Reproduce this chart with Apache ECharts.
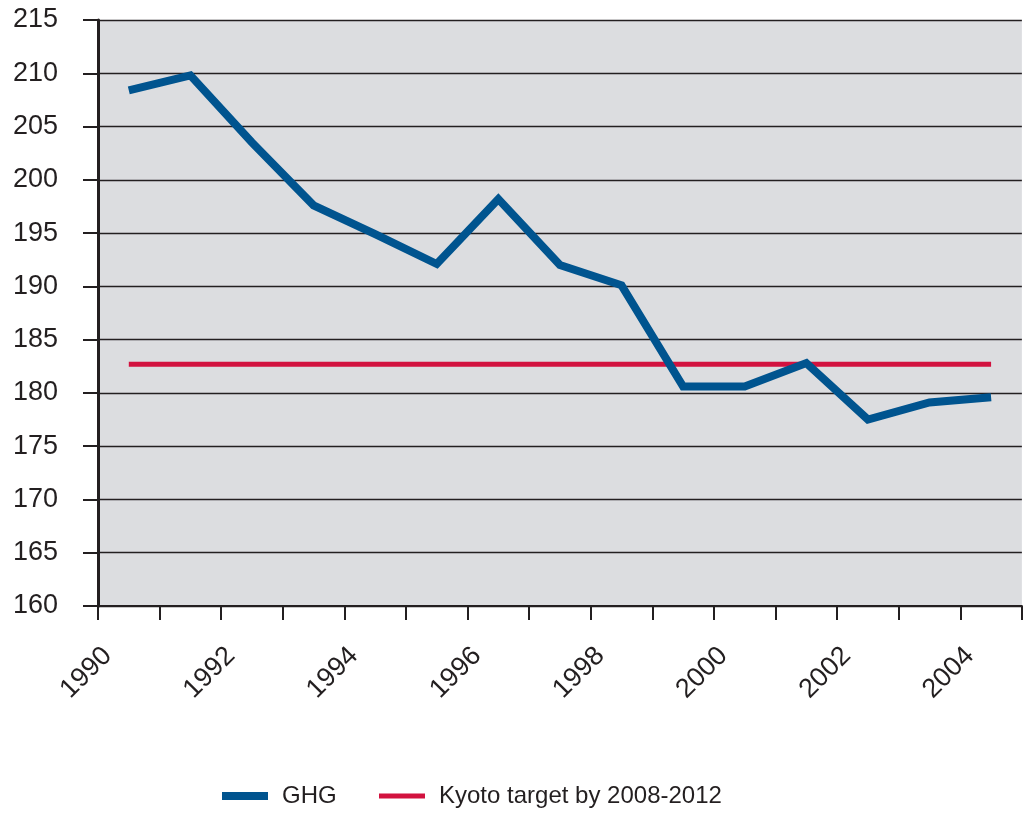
<!DOCTYPE html>
<html>
<head>
<meta charset="utf-8">
<script src="https://cdn.jsdelivr.net/npm/echarts@6/dist/echarts.min.js"></script>
<style>
  html, body { margin: 0; padding: 0; background: #fff; }
  #chart { width: 1024px; height: 814px; }
</style>
</head>
<body>
<div id="chart"></div>
<script>
// 年份（数据点位于每年区间中间）
const years = ['1990', '1991', '1992', '1993', '1994', '1995', '1996', '1997',
  '1998', '1999', '2000', '2001', '2002', '2003', '2004'];
// 温室气体排放
const ghg = [208.4, 209.8, 203.5, 197.6, 194.9, 192.1, 198.2, 192.0,
  190.1, 180.6, 180.6, 182.8, 177.5, 179.1, 179.6];
// 京都目标
const kyoto = [182.7, 182.7, 182.7, 182.7, 182.7, 182.7, 182.7, 182.7,
  182.7, 182.7, 182.7, 182.7, 182.7, 182.7, 182.7];
const yTicks = { min: 160, max: 215, step: 5 };
const xTicks = { min: 1990, max: 2005, step: 1 };

const axisFont = 'Liberation Sans, Arial, sans-serif';
const blue = '#00548f';
const red = '#d2123f';

const legendText = { fontFamily: axisFont, fontSize: 24, color: '#231f20', padding: [0, 0, 0, 9] };

const chart = echarts.init(document.getElementById('chart'));
chart.setOption({
  animation: false,
  grid: [
    {
      left: 98,
      top: 20,
      right: -8,
      bottom: 208,
      show: true,
      backgroundColor: '#dcdde0',
      borderWidth: 0
    },
    // y轴左侧刻度线
    { left: 83, top: 20, width: 15, bottom: 208, show: false }
  ],
  legend: [
    {
      left: 222,
      top: 784,
      padding: 0,
      itemWidth: 46,
      itemHeight: 8,
      icon: 'rect',
      textStyle: legendText,
      data: ['GHG']
    },
    {
      left: 379,
      top: 784,
      padding: 0,
      itemWidth: 46,
      itemHeight: 5,
      icon: 'rect',
      textStyle: legendText,
      data: ['Kyoto target by 2008-2012']
    }
  ],
  xAxis: [
    {
      type: 'category',
      gridIndex: 0,
      data: years,
      boundaryGap: true,
      axisLine: { show: false },
      axisTick: { show: false },
      axisLabel: { show: false }
    },
    {
      type: 'value',
      gridIndex: 0,
      min: xTicks.min,
      max: xTicks.max,
      interval: xTicks.step,
      position: 'bottom',
      splitLine: { show: false },
      axisLine: { show: true, onZero: false, lineStyle: { color: '#231f20', width: 2 } },
      axisTick: { show: true, length: 14, lineStyle: { color: '#231f20', width: 2 } },
      axisLabel: {
        rotate: 45,
        margin: 36,
        verticalAlign: 'top',
        fontFamily: axisFont,
        fontSize: 27,
        color: '#231f20',
        formatter: v => (v % 2 === 0 && v < 2005 ? String(v) : '')
      }
    },
    {
      type: 'value',
      gridIndex: 1,
      show: false
    }
  ],
  yAxis: [
    {
      type: 'value',
      gridIndex: 0,
      min: yTicks.min,
      max: yTicks.max,
      interval: yTicks.step,
      axisLine: { show: true, onZero: false, lineStyle: { color: '#231f20', width: 3 } },
      axisTick: { show: false },
      axisLabel: { margin: 40, fontFamily: axisFont, fontSize: 27, color: '#231f20' },
      splitLine: { show: true, lineStyle: { color: '#231f20', width: 1.3 } }
    },
    {
      type: 'value',
      gridIndex: 1,
      min: yTicks.min,
      max: yTicks.max,
      interval: yTicks.step,
      axisLine: { show: false },
      axisTick: { show: false },
      axisLabel: { show: false },
      splitLine: { show: true, lineStyle: { color: '#231f20', width: 2 } }
    }
  ],
  series: [
    {
      name: 'Kyoto target by 2008-2012',
      type: 'line',
      xAxisIndex: 0,
      yAxisIndex: 0,
      data: kyoto,
      symbol: 'none',
      lineStyle: { color: red, width: 5 },
      itemStyle: { color: red },
      z: 3
    },
    {
      name: 'GHG',
      type: 'line',
      xAxisIndex: 0,
      yAxisIndex: 0,
      data: ghg,
      symbol: 'none',
      lineStyle: { color: blue, width: 8, join: 'miter' },
      itemStyle: { color: blue },
      z: 4
    }
  ]
});
</script>
</body>
</html>
